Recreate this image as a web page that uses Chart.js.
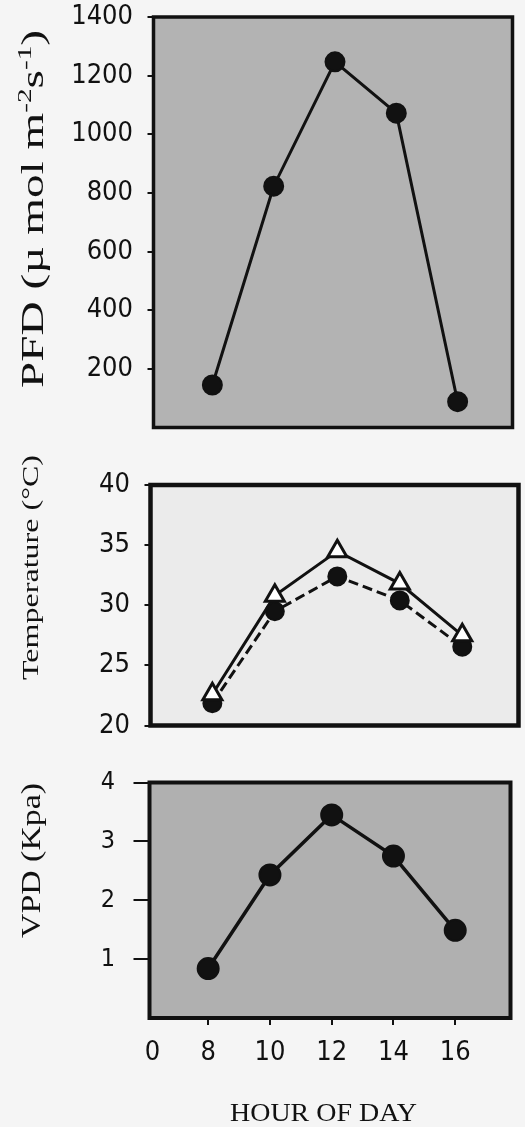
<!DOCTYPE html>
<html>
<head>
<meta charset="utf-8">
<script src="https://cdn.jsdelivr.net/npm/chart.js@4.4.1/dist/chart.umd.min.js"></script>
<style>
  html, body { margin: 0; padding: 0; background: #f5f5f5; }
  body { width: 525px; height: 1127px; position: relative; overflow: hidden; }
  canvas { position: absolute; left: 0; }
</style>
</head>
<body>
<canvas id="c1" width="525" height="445" style="top:0px"></canvas>
<canvas id="c2" width="525" height="305" style="top:445px"></canvas>
<canvas id="c3" width="525" height="377" style="top:750px"></canvas>
<script>
// ---- data ----
const hours = [8, 10, 12, 14, 16];
const pfd = [145, 823, 1247, 1072, 88];
const tempOpen = [22.6, 30.8, 34.5, 31.8, 27.5];
const tempFilled = [21.85, 29.5, 32.4, 30.4, 26.55];
const vpd = [0.84, 2.43, 3.45, 2.75, 1.49];
const pfdTicks = [200, 400, 600, 800, 1000, 1200, 1400];
const tempTicks = [20, 25, 30, 35, 40];
const vpdTicks = [1, 2, 3, 4];
const hourTickLabels = ['0', '8', '10', '12', '14', '16'];
const hourTickValues = [6.2, 8, 10, 12, 14, 16];

const pts = arr => hours.map((h, i) => ({ x: h, y: arr[i] }));

const SERIF = '"Liberation Serif", "Times New Roman", serif';
const NARROW = '"Liberation Sans Narrow", "DejaVu Sans Condensed", "DejaVu Sans", sans-serif';

function drawTitle(ctx, t, offY) {
  ctx.save();
  const fontFor = sup => `${sup ? t.size * 0.62 : t.size}px ${SERIF}`;
  let W = 0;
  const widths = t.segments.map(([s, sup]) => { ctx.font = fontFor(sup); const w = ctx.measureText(s).width; W += w; return w; });
  if (t.vertical) {
    ctx.translate(t.base, t.center - offY);
    ctx.rotate(-Math.PI / 2);
  } else {
    ctx.translate(t.center, t.base - offY);
  }
  ctx.scale(t.length / W, 1);
  ctx.fillStyle = '#111';
  ctx.textBaseline = 'alphabetic';
  ctx.textAlign = 'left';
  let x = -W / 2;
  t.segments.forEach(([s, sup], i) => {
    ctx.font = fontFor(sup);
    ctx.fillText(s, x, sup ? -t.size * 0.4 : 0);
    x += widths[i];
  });
  ctx.restore();
}

const panelPlugin = {
  id: 'panel',
  beforeDraw(chart, args, o) {
    const { ctx, chartArea: a } = chart;
    ctx.save();
    ctx.fillStyle = o.fill;
    ctx.fillRect(a.left, a.top, a.right - a.left, a.bottom - a.top);
    ctx.restore();
  },
  beforeDatasetsDraw(chart, args, o) {
    const { ctx, chartArea: a } = chart;
    ctx.save();
    ctx.strokeStyle = '#111';
    ctx.lineWidth = o.frameWidth;
    ctx.strokeRect(a.left, a.top, a.right - a.left, a.bottom - a.top);
    ctx.restore();
  },
  afterDraw(chart, args, o) {
    (o.titles || []).forEach(t => drawTitle(chart.ctx, t, o.offY));
  }
};

function zeroPad(s) { s.paddingTop = 0; s.paddingBottom = 0; s.paddingLeft = 0; s.paddingRight = 0; }

function yAxis(min, max, ticks, width, tickLen, pad, font) {
  return {
    type: 'linear', position: 'left', min, max,
    afterBuildTicks: s => { s.ticks = ticks.map(v => ({ value: v })); },
    afterFit: s => { s.width = width; zeroPad(s); },
    border: { display: false },
    grid: { drawOnChartArea: false, drawTicks: true, tickLength: tickLen, color: '#111', lineWidth: 2 },
    ticks: { color: '#111', padding: pad, font, callback: v => String(v) },
    title: { display: false }
  };
}

function xHidden(min, max) {
  return { type: 'linear', display: false, min, max };
}

function lineDs(data, extra) {
  return Object.assign({
    data, showLine: true, tension: 0, borderColor: '#111', borderWidth: 3,
    pointBackgroundColor: '#111', pointBorderColor: '#111', pointBorderWidth: 2,
    pointRadius: 9.5, clip: false
  }, extra);
}

const common = {
  responsive: false, animation: false, devicePixelRatio: 1,
  events: [],
  plugins: { legend: { display: false }, tooltip: { enabled: false } }
};

// Panel 1: PFD
new Chart(document.getElementById('c1'), {
  type: 'scatter',
  data: { datasets: [lineDs(pts(pfd), { pointRadius: 9.5 })] },
  options: Object.assign({}, common, {
    layout: { autoPadding: false, padding: { left: 0, top: 17, right: 12.5, bottom: 17.5 } },
    scales: {
      x: xHidden(6.08, 17.79),
      y: yAxis(0, 1400, pfdTicks, 153.5, 6, 14.5, { family: NARROW, size: 27 })
    },
    plugins: Object.assign({}, common.plugins, {
      panel: {
        fill: '#b3b3b3', frameWidth: 3.5, offY: 0,
        titles: [{ vertical: true, base: 43, center: 209, length: 358, size: 31,
          segments: [['PFD (\u00b5 mol m', false], ['-2', true], ['s', false], ['-1', true], [')', false]] }]
      }
    })
  }),
  plugins: [panelPlugin]
});

// Panel 2: Temperature
new Chart(document.getElementById('c2'), {
  type: 'scatter',
  data: { datasets: [
    lineDs(pts(tempOpen), { pointStyle: 'triangle', pointRadius: 11, pointBackgroundColor: '#ffffff', pointBorderWidth: 3 }),
    lineDs(pts(tempFilled), { borderDash: [10, 5], pointRadius: 9 })
  ] },
  options: Object.assign({}, common, {
    layout: { autoPadding: false, padding: { left: 0, top: 40, right: 6.5, bottom: 24.5 } },
    scales: {
      x: xHidden(6.02, 17.8),
      y: yAxis(20, 40, tempTicks, 150.5, 6, 14.5, { family: NARROW, size: 27 })
    },
    plugins: Object.assign({}, common.plugins, {
      panel: {
        fill: '#ebebeb', frameWidth: 4.5, offY: 445,
        titles: [{ vertical: true, base: 38, center: 567.5, length: 225, size: 24,
          segments: [['Temperature (\u00b0C)', false]] }]
      }
    })
  }),
  plugins: [panelPlugin]
});

// Panel 3: VPD
new Chart(document.getElementById('c3'), {
  type: 'scatter',
  data: { datasets: [lineDs(pts(vpd), { pointRadius: 10.5, borderWidth: 3.5 })] },
  options: Object.assign({}, common, {
    layout: { autoPadding: false, padding: { left: 0, top: 32.5, right: 14.5, bottom: 0 } },
    scales: {
      x: {
        type: 'linear', position: 'bottom', min: 6.1, max: 17.79,
        afterBuildTicks: s => { s.ticks = hourTickValues.map(v => ({ value: v })); },
        afterFit: s => { s.height = 109; zeroPad(s); },
        border: { display: false },
        grid: { drawOnChartArea: false, drawTicks: true, tickLength: 7, lineWidth: 2,
          color: c => c.index === 0 ? 'rgba(0,0,0,0)' : '#111' },
        ticks: { color: '#111', padding: 12, maxRotation: 0, autoSkip: false,
          font: { family: NARROW, size: 27 },
          callback: (v, i) => hourTickLabels[i] },
        title: { display: false }
      },
      y: yAxis(0, 4, vpdTicks, 149.5, 16, 18.5, { family: NARROW, size: 25 })
    },
    plugins: Object.assign({}, common.plugins, {
      panel: {
        fill: '#b0b0b0', frameWidth: 4, offY: 750,
        titles: [
          { vertical: true, base: 40, center: 860.5, length: 155, size: 27,
            segments: [['VPD (Kpa)', false]] },
          { vertical: false, base: 1121, center: 323.5, length: 187, size: 26,
            segments: [['HOUR OF DAY', false]] }
        ]
      }
    })
  }),
  plugins: [panelPlugin]
});
</script>
</body>
</html>
